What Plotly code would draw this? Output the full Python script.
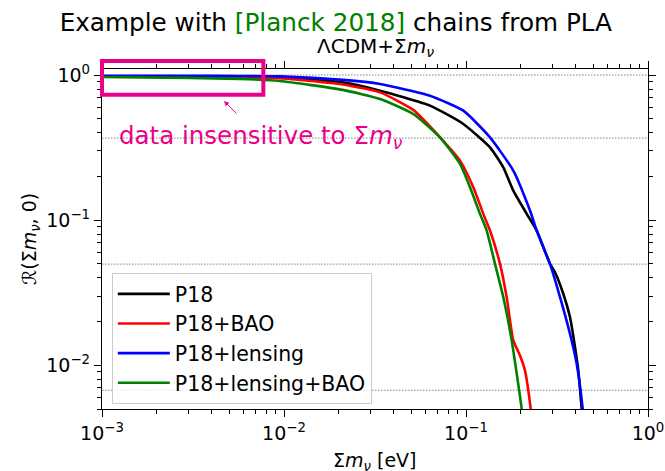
import math
import plotly.graph_objects as go

# ---------------- data ----------------
labels = ["P18", "P18+BAO", "P18+lensing", "P18+lensing+BAO"]
colors = ["black", "red", "blue", "green"]

x_p18 = [0.001, 0.003, 0.0057, 0.0095, 0.021, 0.0337, 0.0634, 0.0967, 0.1355, 0.1603,
         0.1819, 0.2156, 0.2446, 0.2893, 0.3083, 0.3424, 0.3726, 0.3971, 0.414, 0.4321, 0.436]
r_p18 = [0.975, 0.972, 0.97, 0.962, 0.89, 0.78, 0.615, 0.46, 0.3176, 0.2312,
         0.1598, 0.1105, 0.0848, 0.05, 0.0438, 0.0311, 0.0215, 0.01334, 0.00922, 0.00503, 0.0045]

x_bao = [0.001, 0.003, 0.0057, 0.0095, 0.021, 0.0337, 0.0513, 0.072, 0.0927, 0.1097,
         0.1245, 0.1355, 0.1537, 0.1673, 0.1819, 0.198, 0.2109, 0.22, 0.2267, 0.2285]
r_bao = [0.975, 0.968, 0.96, 0.95, 0.86, 0.759, 0.575, 0.372, 0.2572, 0.1684,
         0.1105, 0.0848, 0.05, 0.0295, 0.01484, 0.0117, 0.00922, 0.00672, 0.00503, 0.0045]

x_lens = [0.001, 0.003, 0.0057, 0.0095, 0.021, 0.0337, 0.0634, 0.0967, 0.1355,
          0.1819, 0.2247, 0.2446, 0.2893, 0.3285, 0.3726, 0.4057, 0.4376, 0.441]
r_lens = [0.989, 0.987, 0.985, 0.978, 0.925, 0.867, 0.72, 0.568, 0.372,
          0.2195, 0.1164, 0.0848, 0.05, 0.0295, 0.0165, 0.01026, 0.00503, 0.0045]

x_lbao = [0.001, 0.003, 0.0057, 0.0095, 0.021, 0.0337, 0.0513, 0.072, 0.0927, 0.1052,
          0.1194, 0.1299, 0.1443, 0.1603, 0.1783, 0.19, 0.2023, 0.204]
r_lbao = [0.97, 0.955, 0.94, 0.91, 0.79, 0.684, 0.539, 0.372, 0.244, 0.1684,
          0.1105, 0.0848, 0.05, 0.0295, 0.01484, 0.00875, 0.00503, 0.0045]

series_x = [x_p18, x_bao, x_lens, x_lbao]
series_r = [r_p18, r_bao, r_lens, r_lbao]

# reference levels (dotted lines)
levels = [1.0, math.exp(-1), math.exp(-3), math.exp(-5)]

x_range = [1e-3, 1.0]
y_range = [0.005, 1.1]

x_tickvals = [1e-3, 1e-2, 1e-1, 1.0]
x_ticktext = ["10<sup>\u22123</sup>", "10<sup>\u22122</sup>", "10<sup>\u22121</sup>", "10<sup>0</sup>"]
y_tickvals = [1e-2, 1e-1, 1.0]
y_ticktext = ["10<sup>\u22122</sup>", "10<sup>\u22121</sup>", "10<sup>0</sup>"]

# insensitive region highlighted by the box
box_x = [1e-3, 0.0077]
box_y = [0.73, 1.25]

FONT = "DejaVu Sans"
PINK = "#eb008b"

fig = go.Figure()

for lv in levels:
    fig.add_trace(go.Scatter(x=x_range, y=[lv, lv], mode="lines",
                             line=dict(color="#808080", width=1, dash="1.5px,1.5px"),
                             showlegend=False, hoverinfo="skip"))

for xs, rs, lab, col in zip(series_x, series_r, labels, colors):
    fig.add_trace(go.Scatter(x=xs, y=rs, mode="lines", name=lab,
                             line=dict(color=col, width=2.6, shape="spline", smoothing=0.5)))

lx0, lx1 = math.log10(x_range[0]), math.log10(x_range[1])
ly0, ly1 = math.log10(y_range[0]), math.log10(y_range[1])


def px_x(v):
    return (math.log10(v) - lx0) / (lx1 - lx0)


def px_y(v):
    return (math.log10(v) - ly0) / (ly1 - ly0)


fig.add_shape(type="rect", xref="paper", yref="paper",
              x0=px_x(box_x[0]), x1=px_x(box_x[1]), y0=px_y(box_y[0]), y1=px_y(box_y[1]),
              line=dict(color=PINK, width=4), layer="above")

minor_x = [m * 10 ** e for e in range(-3, 0) for m in range(2, 10)]
minor_y = [m * 10 ** e for e in range(-3, 1) for m in range(2, 10)
           if y_range[0] <= m * 10 ** e <= y_range[1]]

axis_common = dict(type="log", showline=True, linecolor="black", linewidth=1.3,
                   mirror="ticks", ticks="outside", ticklen=7, tickwidth=1.3, tickcolor="black",
                   showgrid=False, zeroline=False, automargin=False,
                   tickfont=dict(family=FONT, size=19, color="black"))

fig.update_xaxes(range=[lx0, lx1], tickmode="array", tickvals=x_tickvals, ticktext=x_ticktext,
                 minor=dict(ticks="outside", ticklen=4, tickwidth=1, tickcolor="black",
                            tickmode="array", tickvals=minor_x, showgrid=False),
                 **axis_common)
fig.update_yaxes(range=[ly0, ly1], tickmode="array", tickvals=y_tickvals, ticktext=y_ticktext,
                 minor=dict(ticks="outside", ticklen=4, tickwidth=1, tickcolor="black",
                            tickmode="array", tickvals=minor_y, showgrid=False),
                 **axis_common)

fig.add_annotation(xref="paper", yref="paper", x=0.0275, y=0.8, xanchor="left", yanchor="middle",
                   text="data insensitive to \u03a3<i>m</i><sub><i>\u03bd</i></sub>", showarrow=False,
                   font=dict(family=FONT, size=24.5, color=PINK))
fig.add_annotation(xref="paper", yref="paper", x=0.2234, y=0.906, ax=14, ay=14,
                   text="", showarrow=True, arrowhead=2, arrowsize=1, arrowwidth=1,
                   arrowcolor=PINK)
fig.add_annotation(xref="paper", yref="paper", x=0.5, y=1.0647, xanchor="center", yanchor="middle",
                   text="\u039bCDM+\u03a3<i>m</i><sub><i>\u03bd</i></sub>", showarrow=False,
                   font=dict(family=FONT, size=20, color="black"))
fig.add_annotation(xref="paper", yref="paper", x=0.5, y=-0.153, xanchor="center", yanchor="middle",
                   text="\u03a3<i>m</i><sub><i>\u03bd</i></sub> [eV]", showarrow=False,
                   font=dict(family=FONT, size=19, color="black"))
fig.add_annotation(xref="paper", yref="paper", x=-0.132, y=0.5, xanchor="center", yanchor="middle",
                   textangle=-90, text="\u211b(\u03a3<i>m</i><sub><i>\u03bd</i></sub>, 0)",
                   showarrow=False, font=dict(family=FONT, size=19, color="black"))

fig.update_layout(
    width=665, height=471,
    margin=dict(l=102, r=17, t=69, b=62, autoexpand=False),
    paper_bgcolor="white", plot_bgcolor="white",
    title=dict(text="Example with <span style='color:green'>[Planck 2018]</span> chains from PLA",
               x=0.505, xref="container", xanchor="center",
               y=1 - 22 / 471, yref="container", yanchor="middle",
               font=dict(family=FONT, size=24.7, color="black")),
    legend=dict(x=0.018, y=0.4, xanchor="left", yanchor="top", itemwidth=52,
                bgcolor="rgba(255,255,255,0.8)", bordercolor="#cccccc", borderwidth=1,
                font=dict(family=FONT, size=20.5, color="black")),
    font=dict(family=FONT),
)

fig.write_html("out.html", config={"displayModeBar": False},
               post_script="document.body.style.margin='0';")
